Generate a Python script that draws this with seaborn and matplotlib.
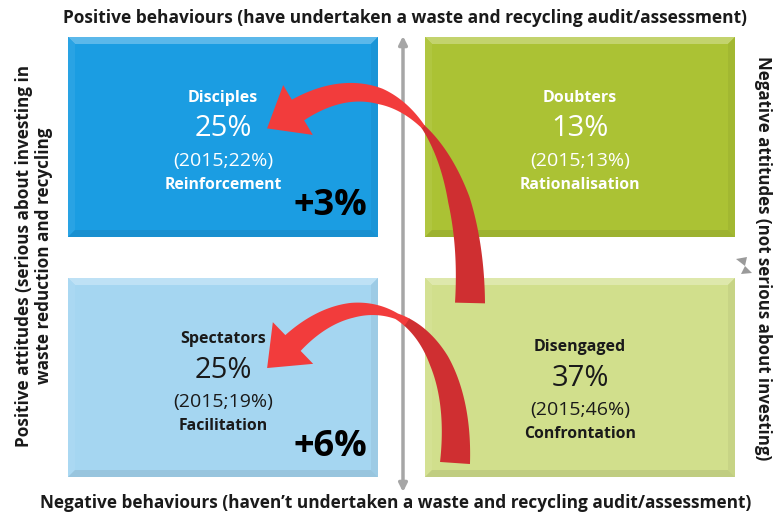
import numpy as np
import matplotlib
matplotlib.use("Agg")
import matplotlib.pyplot as plt
from matplotlib.patches import Polygon, Rectangle
from matplotlib.colors import to_rgb
import seaborn as sns

# --------------------------------------------------------------
# Data: segmentation of businesses (2016 vs 2015)
# --------------------------------------------------------------
segments = ["Disciples", "Doubters", "Spectators", "Disengaged"]
share_now = [25, 13, 25, 37]
share_2015 = [22, 13, 19, 46]
strategies = ["Reinforcement", "Rationalisation", "Facilitation", "Confrontation"]
tile_colors = ["#1b9de2", "#abc234", "#a5d6f1", "#d1df8c"]
text_colors = ["white", "white", "#1a1a1a", "#1a1a1a"]
grid_col = [0, 1, 0, 1]
grid_row = [0, 0, 1, 1]
show_change = [True, False, True, False]

top_label = "Positive behaviours (have undertaken a waste and recycling audit/assessment)"
bottom_label = "Negative behaviours (haven\u2019t undertaken a waste and recycling audit/assessment)"
left_label = "Positive attitudes (serious about investing in\nwaste reduction and recycling"
right_label = "Negative attitudes (not serious about investing)"

# --------------------------------------------------------------
# Layout (pixel space of the 776x514 canvas)
# --------------------------------------------------------------
col_x = [(68, 378), (425, 735)]
row_y = [(37, 237), (278, 477)]
text_drop = [0, 0, 0, 8]

sns.set_theme(style="white")
plt.rcParams['font.family'] = ['Open Sans', 'DejaVu Sans']

fig = plt.figure(figsize=(7.76, 5.14), dpi=100)
ax = fig.add_axes([0, 0, 1, 1])
ax.set_xlim(0, 776)
ax.set_ylim(514, 0)
ax.axis('off')


def shade(c, f):
    r = np.array(to_rgb(c))
    if f >= 0:
        return tuple(r + (1 - r) * f)
    return tuple(r * (1 + f))


def bevel_tile(x0, x1, y0, y1, color, b=7):
    ax.add_patch(Rectangle((x0, y0), x1 - x0, y1 - y0, color=color, lw=0, zorder=1))
    edges = [
        ([(x0, y0), (x1, y0), (x1 - b, y0 + b), (x0 + b, y0 + b)], 0.28),
        ([(x0, y0), (x0 + b, y0 + b), (x0 + b, y1 - b), (x0, y1)], 0.06),
        ([(x1, y0), (x1, y1), (x1 - b, y1 - b), (x1 - b, y0 + b)], -0.05),
        ([(x0, y1), (x1, y1), (x1 - b, y1 - b), (x0 + b, y1 - b)], -0.08),
    ]
    for pts, f in edges:
        ax.add_patch(Polygon(pts, closed=True, color=shade(color, f), lw=0, zorder=1))


for i, name in enumerate(segments):
    x0, x1 = col_x[grid_col[i]]
    y0, y1 = row_y[grid_row[i]]
    bevel_tile(x0, x1, y0, y1, tile_colors[i])
    cx = (x0 + x1) / 2
    dy = y0 + text_drop[i]
    tc = text_colors[i]
    ax.text(cx, dy + 61, name, ha='center', va='center', color=tc,
            fontsize=11.5, fontweight='bold', zorder=3)
    ax.text(cx, dy + 92, f"{share_now[i]}%", ha='center', va='center', color=tc,
            fontsize=21, zorder=3)
    ax.text(cx, dy + 124, f"(2015;{share_2015[i]}%)", ha='center', va='center', color=tc,
            fontsize=14, zorder=3)
    ax.text(cx, dy + 148, strategies[i], ha='center', va='center', color=tc,
            fontsize=11.3, fontweight='bold', zorder=3)
    if show_change[i]:
        diff = share_now[i] - share_2015[i]
        ax.text(x1 - 11, y0 + 169, f"{diff:+d}%", ha='right', va='center', color='black',
                fontsize=26, fontweight='bold', zorder=3)

# axis labels round the matrix
ax.text(405, 18, top_label, ha='center', va='center', fontsize=12.5, fontweight='bold',
        color='#1a1a1a')
ax.text(396, 503, bottom_label, ha='center', va='center', fontsize=12.4, fontweight='bold',
        color='#1a1a1a')
ax.text(34, 256, left_label, ha='center', va='center', rotation=90, fontsize=12.3,
        fontweight='bold', color='#1a1a1a', linespacing=1.15)
ax.text(763, 258, right_label, ha='center', va='center', rotation=-90, fontsize=12.2,
        fontweight='bold', color='#1a1a1a')

# vertical divider arrow
ax.annotate('', xy=(403, 36), xytext=(403, 492),
            arrowprops=dict(arrowstyle='<|-|>', color='#a6a6a6', lw=2.5,
                            mutation_scale=12, shrinkA=0, shrinkB=0), zorder=2)

# small grey marker at the right
ax.add_patch(Polygon([(736, 259), (747, 257), (745, 266)], color='#9a9a9a', lw=0))
ax.add_patch(Polygon([(745, 266), (752, 273), (741, 274)], color='#9a9a9a', lw=0))


def bezier(P, t):
    P = np.asarray(P, float)
    t = t[:, None]
    return ((1 - t) ** 3 * P[0] + 3 * (1 - t) ** 2 * t * P[1]
            + 3 * (1 - t) * t ** 2 * P[2] + t ** 3 * P[3])


def curved_arrow(P, wt, wv, split, head_len=36, head_w=58,
                 c_tail='#cf2f31', c_head='#f23c3c'):
    t = np.linspace(0, 1, 300)
    pts = bezier(P, t)
    d = np.gradient(pts, axis=0)
    d /= np.linalg.norm(d, axis=1)[:, None]
    n = np.column_stack([-d[:, 1], d[:, 0]])
    w = np.interp(t, wt, wv)
    left = pts + n * w[:, None] / 2
    right = pts - n * w[:, None] / 2
    s = int(split * (len(t) - 1))
    tail = np.vstack([left[:s + 2], right[:s + 2][::-1]])
    ax.add_patch(Polygon(tail, closed=True, color=c_tail, lw=0, zorder=4))
    end, de, ne = pts[-1], d[-1], n[-1]
    head = np.vstack([left[s:], [end + ne * head_w / 2], [end + de * head_len],
                      [end - ne * head_w / 2], right[s:][::-1]])
    ax.add_patch(Polygon(head, closed=True, color=c_head, lw=0, zorder=4))


curved_arrow([(470, 303), (474, 150), (398, 50), (298, 110)],
             [0, 0.25, 0.5, 0.7, 1], [30, 22, 4, 16, 24], split=0.5)
curved_arrow([(455, 463), (465, 322), (370, 268), (293, 343)],
             [0, 0.3, 0.55, 0.75, 1], [30, 20, 6, 15, 22], split=0.5)

fig.savefig('out.png', dpi=100)
